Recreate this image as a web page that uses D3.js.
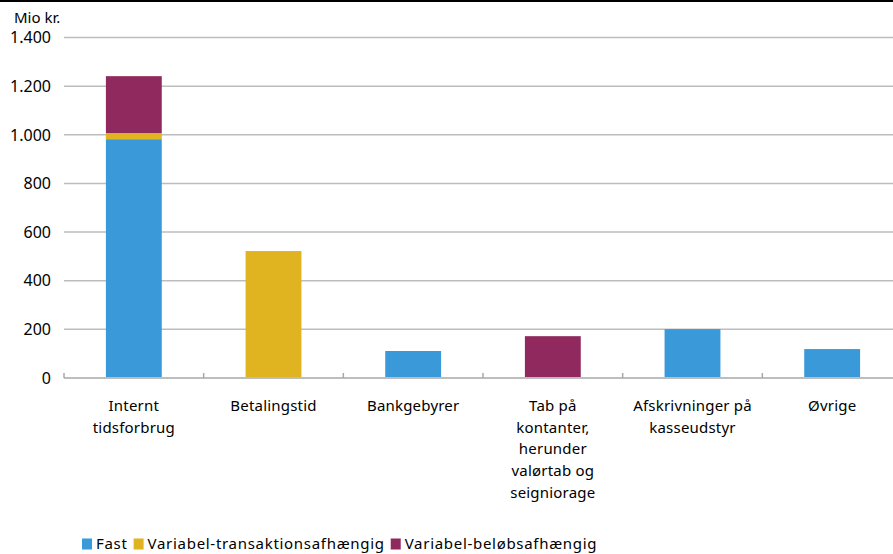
<!DOCTYPE html>
<html>
<head>
<meta charset="utf-8">
<script src="https://cdn.jsdelivr.net/npm/d3@7"></script>
<style>
  html, body { margin: 0; padding: 0; background: #fff; }
  svg { display: block; font-family: "Noto Sans", "Open Sans", sans-serif; }
</style>
</head>
<body>
<svg id="chart" width="893" height="554"></svg>
<script>
const categories = [
  "Internt\ntidsforbrug",
  "Betalingstid",
  "Bankgebyrer",
  "Tab på\nkontanter,\nherunder\nvalørtab og\nseigniorage",
  "Afskrivninger på\nkasseudstyr",
  "Øvrige"
];
const seriesNames = ["Fast", "Variabel-transaktionsafhængig", "Variabel-beløbsafhængig"];
const fast       = [982, 0, 111, 0, 201, 119];
const varTrans   = [25, 522, 0, 0, 0, 0];
const varBelob   = [234, 0, 0, 172, 0, 0];
const colors = ["#3a9ad9", "#e0b321", "#902a5e"];
const yTicks = [0, 200, 400, 600, 800, 1000, 1200, 1400];
const yLabel = "Mio kr.";

const svg = d3.select("#chart");
const W = 893, H = 554;
const m = { left: 64, right: -9, top: 37.5, bottom: 176 };

// top rule
svg.append("rect").attr("x", 0).attr("y", 0).attr("width", W).attr("height", 2).attr("fill", "#000");

const x = d3.scaleBand().domain(categories).range([m.left, W - m.right]).paddingInner(0.6).paddingOuter(0.3);
const y = d3.scaleLinear().domain([0, 1400]).range([H - m.bottom, m.top]);

const fmt = v => d3.format(",")(v).replace(/,/g, ".");

// gridlines
svg.append("g").selectAll("line").data(yTicks.filter(t => t > 0)).join("line")
  .attr("x1", m.left).attr("x2", W).attr("y1", d => y(d)).attr("y2", d => y(d))
  .attr("stroke", "#bdbdbd").attr("stroke-width", 1.5);

// y tick labels
svg.append("g").selectAll("text").data(yTicks).join("text")
  .attr("x", 51).attr("y", d => y(d)).attr("dy", "0.36em")
  .attr("text-anchor", "end").attr("font-size", 16).attr("fill", "#000")
  .text(d => fmt(d));

svg.append("text").attr("x", 14).attr("y", 23).attr("font-size", 15).attr("fill", "#000").text(yLabel);

// stacked bars
const table = categories.map((c, i) => ({ cat: c, s0: fast[i], s1: varTrans[i], s2: varBelob[i] }));
const stack = d3.stack().keys(["s0", "s1", "s2"])(table);
svg.append("g").selectAll("g").data(stack).join("g")
  .attr("fill", (d, i) => colors[i])
  .selectAll("rect").data(d => d).join("rect")
  .attr("x", d => x(d.data.cat))
  .attr("width", x.bandwidth())
  .attr("y", d => y(d[1]))
  .attr("height", d => y(d[0]) - y(d[1]));

// x axis line and ticks
const y0 = y(0);
svg.append("line").attr("x1", m.left).attr("x2", W).attr("y1", y0).attr("y2", y0)
  .attr("stroke", "#bdbdbd").attr("stroke-width", 2);
const step = x.step();
const bounds = d3.range(categories.length + 1).map(i => m.left + i * step);
svg.append("g").selectAll("line").data(bounds).join("line")
  .attr("x1", d => d).attr("x2", d => d).attr("y1", y0 - 5).attr("y2", y0)
  .attr("stroke", "#a8a8a8").attr("stroke-width", 1.5);

// category labels
const lab = svg.append("g").selectAll("text").data(categories).join("text")
  .attr("text-anchor", "middle").attr("font-size", 15).attr("letter-spacing", 0.2).attr("fill", "#000")
  .attr("transform", d => `translate(${x(d) + x.bandwidth() / 2},${y0 + 33})`);
lab.selectAll("tspan").data(d => d.split("\n")).join("tspan")
  .attr("x", 0).attr("dy", (d, i) => i === 0 ? 0 : 21.7).text(d => d);

// legend
const lg = svg.append("g").attr("transform", "translate(82,549)");
let lx = 0;
seriesNames.forEach((name, i) => {
  lg.append("rect").attr("x", lx).attr("y", -10.5).attr("width", 10).attr("height", 11).attr("fill", colors[i]);
  const t = lg.append("text").attr("x", lx + 14).attr("y", 0).attr("font-size", 15)
    .attr("letter-spacing", 0.7).attr("fill", "#000").text(name);
  lx += 14 + t.node().getComputedTextLength() + 6;
});
</script>
</body>
</html>
